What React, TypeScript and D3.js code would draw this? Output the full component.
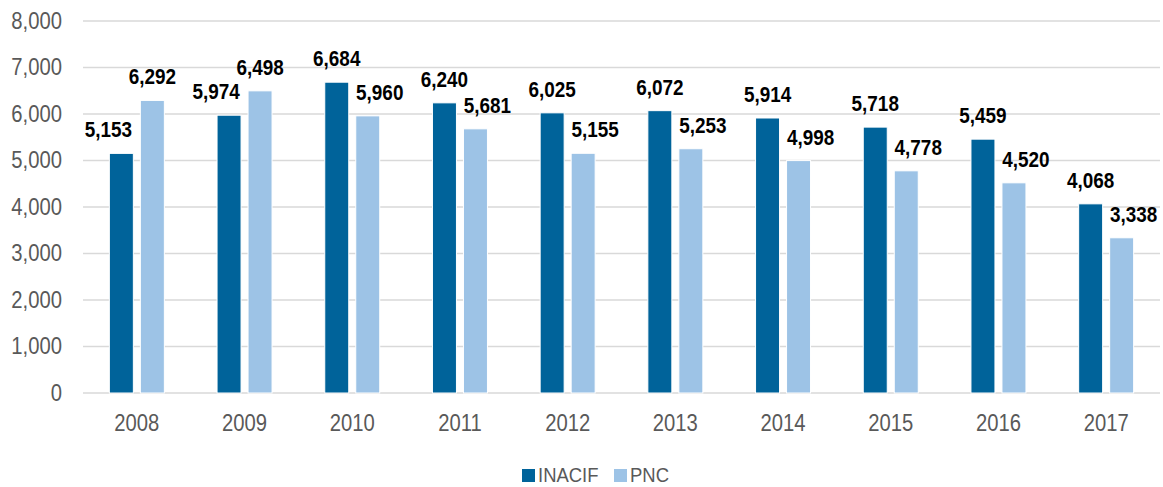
import { scaleBand, scaleLinear, format } from "d3";

const years = ["2008", "2009", "2010", "2011", "2012", "2013", "2014", "2015", "2016", "2017"];
const inacif = [5153, 5974, 6684, 6240, 6025, 6072, 5914, 5718, 5459, 4068];
const pnc = [6292, 6498, 5960, 5681, 5155, 5253, 4998, 4778, 4520, 3338];
const seriesNames = ["INACIF", "PNC"];
const yTicks = [0, 1000, 2000, 3000, 4000, 5000, 6000, 7000, 8000];

const W = 1163;
const H = 487;
const colors = ["#00639A", "#9DC3E6"];
const font = "'Liberation Sans', Arial, sans-serif";

// texto condensado horizontalmente
function T({ x, y, size, sx = 0.88, anchor = "start", bold = false, fill = "#595959", children }: any) {
  return (
    <text
      transform={`translate(${x},${y}) scale(${sx},1)`}
      textAnchor={anchor}
      fontSize={size}
      fontWeight={bold ? "bold" : "normal"}
      fill={fill}
    >
      {children}
    </text>
  );
}

export default function App() {
  const x = scaleBand().domain(years).range([83, 1160]);
  const x1 = scaleBand().domain(seriesNames).range([-27.5, 27.5]).paddingInner(0.226);
  const y = scaleLinear().domain([0, 8000]).range([393, 21]);
  const fmt = format(",");
  const values = [inacif, pnc];

  return (
    <svg width={W} height={H} style={{ position: "absolute", left: 0, top: 0, background: "#fff" }} fontFamily={font}>
      {/* cuadrícula */}
      {yTicks.map((t) => (
        <g key={t}>
          <line x1={83} x2={1160} y1={y(t)} y2={y(t)} stroke="#D9D9D9" strokeWidth={1.5} />
          <T x={62} y={y(t) + 7.5} size={23} anchor="end">
            {fmt(t)}
          </T>
        </g>
      ))}

      {/* barras */}
      {years.map((yr, i) => {
        const cx = (x(yr) ?? 0) + x.bandwidth() / 2;
        return (
          <g key={yr}>
            {seriesNames.map((s, j) => {
              const v = values[j][i];
              const other = values[1 - j][i];
              const bx = cx + (x1(s) ?? 0);
              // la etiqueta de la barra más baja se corre hacia afuera
              const shift = v < other ? (j === 0 ? -13 : 12) : 0;
              return (
                <g key={s}>
                  <rect
                    x={bx}
                    y={y(v)}
                    width={x1.bandwidth()}
                    height={y(0) - y(v)}
                    fill={colors[j]}
                    stroke="#fff"
                    strokeWidth={1}
                  />
                  <T x={bx + x1.bandwidth() / 2 + shift} y={y(v) - 16} size={22} sx={0.86} anchor="middle" bold fill="#000">
                    {fmt(v)}
                  </T>
                </g>
              );
            })}
            <T x={cx} y={431} size={23} anchor="middle">
              {yr}
            </T>
          </g>
        );
      })}

      {/* leyenda */}
      <g>
        <rect x={522} y={469} width={13} height={13} fill={colors[0]} />
        <T x={538} y={482} size={21}>{seriesNames[0]}</T>
        <rect x={614} y={469} width={13} height={13} fill={colors[1]} />
        <T x={630} y={482} size={21}>{seriesNames[1]}</T>
      </g>
    </svg>
  );
}
